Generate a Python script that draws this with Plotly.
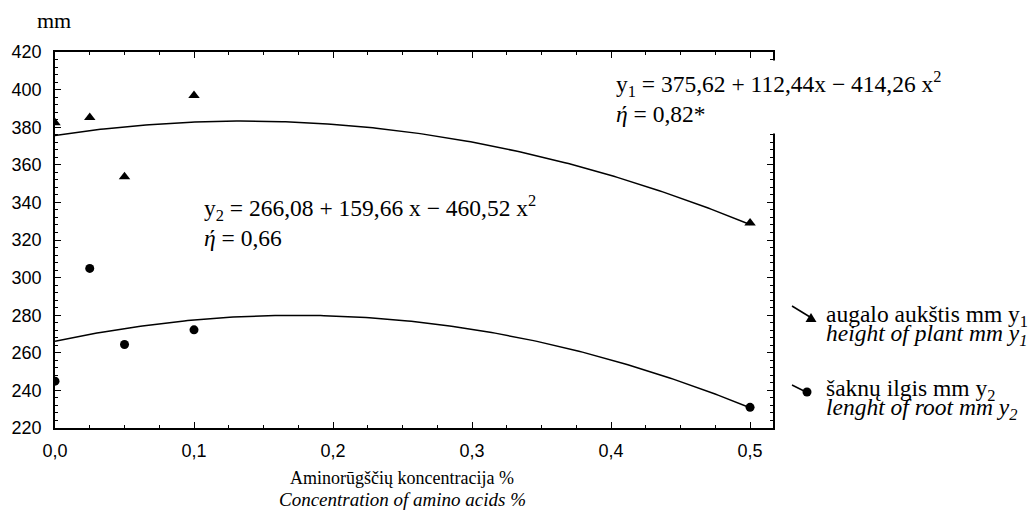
import numpy as np
import plotly.graph_objects as go

# Amino acid concentration, %
conc = [0.0, 0.025, 0.05, 0.1, 0.5]
# Plant height, mm (y1)
plant_height = [382.4, 385.2, 353.7, 396.8, 329.0]
# Root length, mm (y2)
root_length = [244.9, 304.9, 264.4, 272.2, 231.0]

# Quadratic regression coefficients (a + b x + c x^2)
fit_height = [375.62, 112.44, -414.26]
fit_root = [266.08, 159.66, -460.52]

x_ticks = [0.0, 0.1, 0.2, 0.3, 0.4, 0.5]
y_ticks = [220, 240, 260, 280, 300, 320, 340, 360, 380, 400, 420]

SANS = "Liberation Sans"
SERIF = "Liberation Serif"

W, H = 1034, 520
L, R, T, B = 55, 773, 52, 428


def px(x):
    return (x - L) / (R - L)


def py(y):
    return (B - y) / (B - T)


xf = np.linspace(0, 0.5, 200)


def quad(c, x):
    return c[0] + c[1] * x + c[2] * x ** 2


fig = go.Figure()

fig.add_trace(go.Scatter(x=xf, y=quad(fit_height, xf), mode="lines",
                         line=dict(color="black", width=1.5), showlegend=False))
fig.add_trace(go.Scatter(x=xf, y=quad(fit_root, xf), mode="lines",
                         line=dict(color="black", width=1.5), showlegend=False))
fig.add_trace(go.Scatter(x=conc, y=plant_height, mode="markers",
                         marker=dict(symbol="triangle-up", size=10, color="black"),
                         showlegend=False))
fig.add_trace(go.Scatter(x=conc, y=root_length, mode="markers",
                         marker=dict(symbol="circle", size=9, color="black"),
                         showlegend=False))

axis_common = dict(showline=True, linecolor="black", linewidth=1.5, mirror="allticks",
                   ticks="inside", tickcolor="black", tickwidth=1, ticklen=6,
                   showgrid=False, zeroline=False,
                   tickfont=dict(family=SANS, size=18, color="black"))

fig.update_layout(
    width=W, height=H,
    margin=dict(l=L, r=W - R, t=T, b=H - B, pad=0),
    paper_bgcolor="white", plot_bgcolor="white",
    separators=", ",
    xaxis=dict(range=[0, 0.5165], tickvals=x_ticks, tickformat=".1f",
               minor=dict(dtick=0.025, tick0=0, ticks="inside", ticklen=3,
                          tickcolor="black", tickwidth=1),
               ticklabelstandoff=6, **axis_common),
    yaxis=dict(range=[220, 420], tickvals=y_ticks,
               minor=dict(dtick=4, tick0=220, ticks="inside", ticklen=3,
                          tickcolor="black", tickwidth=1),
               ticklabelstandoff=8, **axis_common),
)


# Legend keys: short slanted line ending in the series marker
def key_line(x0, y0, x1, y1):
    fig.add_shape(type="line", xref="paper", yref="paper",
                  x0=px(x0), y0=py(y0), x1=px(x1), y1=py(y1),
                  line=dict(color="black", width=1.5))


key_line(792, 306, 810, 317)
cx, cy = 811, 318
fig.add_shape(type="path", xref="paper", yref="paper",
              path=f"M {px(cx)} {py(cy - 5)} L {px(cx - 5.5)} {py(cy + 4)} "
                   f"L {px(cx + 5.5)} {py(cy + 4)} Z",
              fillcolor="black", line=dict(color="black", width=0))
key_line(792, 385, 806, 392)
cx, cy = 807, 392
fig.add_shape(type="circle", xref="paper", yref="paper",
              x0=px(cx - 4.5), x1=px(cx + 4.5), y0=py(cy + 4.5), y1=py(cy - 4.5),
              fillcolor="black", line=dict(color="black", width=0))


def note(text, x, y, size=23.5, xanchor="left"):
    fig.add_annotation(text=text, x=px(x), y=py(y), xref="paper", yref="paper",
                       xanchor=xanchor, yanchor="middle", showarrow=False,
                       font=dict(family=SERIF, size=size, color="black"))


note("mm", 35, 20, size=22)

# Regression equations
fig.add_annotation(
    text="y<sub>1</sub> = 375,62 + 112,44x − 414,26 x<sup>2</sup><br><i>ή</i> = 0,82*",
    x=px(609), y=py(97), xref="paper", yref="paper", xanchor="left", yanchor="middle",
    align="left", showarrow=False, bgcolor="white", borderpad=6,
    font=dict(family=SERIF, size=23.5, color="black"))
fig.add_annotation(
    text="y<sub>2</sub> = 266,08 + 159,66 x − 460,52 x<sup>2</sup><br><i>ή</i> = 0,66",
    x=px(202), y=py(221), xref="paper", yref="paper", xanchor="left", yanchor="middle",
    align="left", showarrow=False,
    font=dict(family=SERIF, size=23.5, color="black"))

# Legend labels
note("augalo aukštis mm y<sub>1</sub>", 824, 316)
note("<i>height of plant mm y<sub>1</sub></i>", 824, 335)
note("šaknų ilgis mm y<sub>2</sub>", 824, 390)
note("<i>lenght of root mm y<sub>2</sub></i>", 824, 409)

# Axis title
note("Aminorūgščių koncentracija %", 402, 478, size=18, xanchor="center")
note("<i>Concentration of amino acids %</i>", 402, 499, size=19, xanchor="center")

fig.write_html("out.html")
